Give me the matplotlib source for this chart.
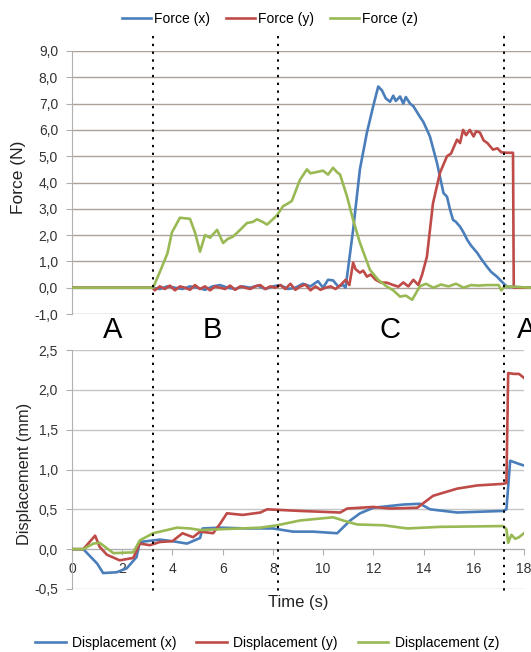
import matplotlib
matplotlib.use("Agg")
import matplotlib.pyplot as plt
import matplotlib.transforms as mtransforms
from matplotlib.lines import Line2D

plt.rcParams['font.family'] = ['Liberation Sans', 'DejaVu Sans']

# ---------------- data ----------------
fx_t = [0, 3.2, 3.5, 3.8, 4.1, 4.4, 4.7, 5.0, 5.3, 5.6, 5.9, 6.2, 6.5, 6.8, 7.1, 7.4, 7.7, 8.0, 8.3,
        8.6, 8.9, 9.2, 9.5, 9.8, 10.0, 10.2, 10.4, 10.6, 10.8, 10.9, 11.2, 11.47, 11.75, 12.0, 12.2,
        12.35, 12.5, 12.67, 12.8, 12.9, 13.07, 13.2, 13.3, 13.47, 13.6, 13.86, 14.0, 14.26, 14.54,
        14.8, 14.94, 15.06, 15.18, 15.3, 15.46, 15.6, 15.74, 15.9, 16.14, 16.3, 16.53, 16.7, 16.93,
        17.1, 17.33, 18.3]
fx_v = [0, 0, -0.05, 0.05, 0.0, -0.05, 0.05, 0.0, -0.08, 0.05, 0.1, 0.0, -0.05, 0.05, 0.0, 0.08,
        -0.05, 0.05, 0.1, -0.05, 0.0, 0.15, 0.05, 0.25, 0.0, 0.3, 0.28, 0.05, 0.1, 0.0, 2.2, 4.5,
        5.9, 6.9, 7.65, 7.5, 7.2, 7.07, 7.3, 7.1, 7.27, 7.0, 7.25, 7.0, 6.9, 6.5, 6.3, 5.75, 4.75,
        3.6, 3.46, 2.97, 2.58, 2.5, 2.32, 2.1, 1.83, 1.6, 1.33, 1.1, 0.8, 0.6, 0.42, 0.25, 0.04, 0]

fy_t = [0, 3.2, 3.3, 3.5, 3.7, 3.9, 4.1, 4.3, 4.5, 4.7, 4.9, 5.1, 5.3, 5.5, 5.7, 5.9, 6.1, 6.3, 6.5,
        6.7, 6.9, 7.1, 7.3, 7.5, 7.7, 7.9, 8.1, 8.3, 8.5, 8.7, 8.9, 9.1, 9.3, 9.5, 9.7, 9.9, 10.1,
        10.3, 10.5, 10.7, 10.9, 11.05, 11.2, 11.3, 11.47, 11.6, 11.75, 11.9, 12.1, 12.3, 12.55, 12.8,
        13.0, 13.2, 13.4, 13.6, 13.8, 13.95, 14.14, 14.38, 14.66, 14.94, 15.1, 15.34, 15.46, 15.58,
        15.7, 15.85, 16.0, 16.1, 16.25, 16.4, 16.55, 16.77, 16.95, 17.1, 17.33, 17.57, 17.6, 18.3]
fy_v = [0, 0, -0.1, 0.05, -0.05, 0.08, -0.1, 0.05, 0.0, -0.08, 0.1, -0.05, 0.05, -0.1, 0.05, 0.0,
        -0.05, 0.08, -0.08, 0.05, 0.0, -0.05, 0.05, 0.1, -0.05, 0.05, 0.0, 0.1, -0.05, 0.15, -0.08,
        0.05, 0.12, -0.1, 0.05, -0.08, 0.0, 0.05, -0.05, 0.1, 0.3, 0.1, 0.95, 0.7, 0.57, 0.65, 0.42,
        0.5, 0.3, 0.2, 0.19, 0.1, 0.04, 0.2, 0.05, 0.3, 0.1, 0.5, 1.18, 3.2, 4.37, 5.0, 5.1, 5.63,
        5.5, 6.0, 5.8, 6.0, 5.75, 5.95, 5.9, 5.6, 5.5, 5.25, 5.3, 5.15, 5.13, 5.13, 0, 0]

fz_t = [0, 3.23, 3.5, 3.8, 3.98, 4.3, 4.7, 4.9, 5.1, 5.3, 5.5, 5.78, 6.02, 6.2, 6.41, 6.7, 6.97, 7.2,
        7.37, 7.6, 7.77, 8.0, 8.17, 8.41, 8.6, 8.76, 9.08, 9.36, 9.5, 9.76, 10.0, 10.2, 10.4, 10.55,
        10.68, 10.96, 11.2, 11.47, 11.87, 12.2, 12.55, 12.8, 13.07, 13.3, 13.55, 13.86, 14.1, 14.4,
        14.7, 15.0, 15.3, 15.6, 15.9, 16.2, 16.5, 16.8, 17.0, 17.1, 17.25, 18.3]
fz_v = [0, 0, 0.6, 1.3, 2.1, 2.66, 2.62, 2.1, 1.37, 2.0, 1.9, 2.2, 1.7, 1.85, 1.94, 2.2, 2.46, 2.5,
        2.6, 2.5, 2.4, 2.6, 2.76, 3.1, 3.2, 3.3, 4.1, 4.5, 4.35, 4.4, 4.45, 4.3, 4.56, 4.4, 4.3, 3.46,
        2.58, 1.71, 0.68, 0.3, 0.04, -0.1, -0.34, -0.3, -0.46, 0.05, 0.15, 0.0, 0.12, 0.05, 0.15,
        0.0, 0.1, 0.08, 0.1, 0.1, 0.1, -0.1, 0.05, 0.0]

dx_t = [0, 0.45, 1.0, 1.24, 1.78, 2.18, 2.57, 2.7, 3.5, 4.0, 4.58, 5.1, 5.2, 5.9, 6.97, 8.0, 8.8,
        9.6, 10.56, 11.08, 11.47, 12.0, 13.19, 13.86, 14.26, 15.34, 17.17, 17.3, 17.45, 17.8, 18.0]
dx_v = [0, 0, -0.18, -0.3, -0.29, -0.24, -0.1, 0.09, 0.12, 0.1, 0.07, 0.14, 0.26, 0.27, 0.26, 0.26,
        0.22, 0.22, 0.2, 0.36, 0.45, 0.52, 0.56, 0.57, 0.5, 0.46, 0.48, 0.5, 1.11, 1.07, 1.05]

dy_t = [0, 0.45, 0.92, 1.1, 1.39, 1.9, 2.44, 2.7, 3.1, 3.5, 4.0, 4.4, 4.82, 5.1, 5.62, 5.9, 6.17,
        6.8, 7.5, 7.77, 9.08, 10.68, 10.96, 12.0, 12.67, 13.75, 14.38, 15.34, 16.14, 17.17, 17.3,
        17.37, 17.6, 17.8, 18.0]
dy_v = [0, 0, 0.17, 0.03, -0.07, -0.14, -0.11, 0.07, 0.05, 0.09, 0.1, 0.2, 0.15, 0.22, 0.2, 0.32,
        0.45, 0.43, 0.46, 0.5, 0.48, 0.46, 0.51, 0.53, 0.51, 0.52, 0.67, 0.76, 0.8, 0.82, 0.83, 2.21,
        2.2, 2.2, 2.15]

dz_t = [0, 0.45, 0.85, 1.1, 1.65, 2.44, 2.7, 3.23, 3.78, 4.18, 4.7, 5.1, 5.9, 7.5, 8.17, 9.08,
        10.4, 10.8, 11.35, 12.4, 13.35, 14.66, 17.17, 17.3, 17.37, 17.5, 17.65, 17.8, 18.0]
dz_v = [0, 0, 0.07, 0.08, -0.05, -0.04, 0.11, 0.2, 0.24, 0.27, 0.26, 0.24, 0.25, 0.27, 0.3, 0.36,
        0.4, 0.36, 0.31, 0.3, 0.26, 0.28, 0.29, 0.25, 0.08, 0.18, 0.13, 0.15, 0.2]

phase_times = [3.23, 8.2, 17.2]
phase_labels = ['A', 'B', 'C', 'A']
phase_label_x = [1.63, 5.6, 12.67, 18.1]

force_ticks = [-1, 0, 1, 2, 3, 4, 5, 6, 7, 8, 9]
disp_ticks = [-0.5, 0.0, 0.5, 1.0, 1.5, 2.0, 2.5]
time_ticks = [0, 2, 4, 6, 8, 10, 12, 14, 16, 18]

force_names = ['Force (x)', 'Force (y)', 'Force (z)']
disp_names = ['Displacement (x)', 'Displacement (y)', 'Displacement (z)']
colors = ['#4a7ebb', '#be4b48', '#98b954']

# ---------------- figure ----------------
W, H = 531, 652
fig = plt.figure(figsize=(W / 100, H / 100), dpi=100)

def frac(x0, y0, x1, y1):
    return [x0 / W, 1 - y1 / H, (x1 - x0) / W, (y1 - y0) / H]

ax1 = fig.add_axes(frac(72, 51, 531, 314))
ax2 = fig.add_axes(frac(72, 350, 524, 589))

lw = 1.9
for t, v, c, n in zip([fx_t, fy_t, fz_t], [fx_v, fy_v, fz_v], colors, force_names):
    ax1.plot(t, v, color=c, lw=lw, label=n, zorder=3)
for t, v, c, n in zip([dx_t, dy_t, dz_t], [dx_v, dy_v, dz_v], colors, disp_names):
    ax2.plot(t, v, color=c, lw=lw, label=n, zorder=3)

def fmt(v):
    return ('%.1f' % v).replace('.', ',')

tick_fs = 10
# top axis
ax1.set_xlim(0, (531 - 72) / 25.1)
ax1.set_ylim(-1, 9)
ax1.set_yticks(force_ticks)
ax1.set_yticklabels([fmt(v) for v in force_ticks])
ax1.set_xticks([])
ax1.grid(axis='y', color='#aaa29b', lw=1.0, zorder=0)
for s in ['top', 'right', 'bottom']:
    ax1.spines[s].set_visible(False)
ax1.spines['left'].set_color('#b0b0b0')
ax1.tick_params(axis='y', length=4, color='#b0b0b0', pad=6, labelsize=tick_fs, labelcolor='#333333')

# bottom axis
ax2.set_xlim(0, 18)
ax2.set_ylim(-0.5, 2.5)
ax2.set_yticks(disp_ticks)
ax2.set_yticklabels([fmt(v) for v in disp_ticks])
ax2.set_xticks(time_ticks)
ax2.set_xticklabels([str(v) for v in time_ticks])
ax2.grid(axis='y', color='#c6c6c6', lw=1.0, zorder=0)
for s in ['top', 'right']:
    ax2.spines[s].set_visible(False)
ax2.spines['bottom'].set_position(('data', 0))
ax2.spines['bottom'].set_color('#b0b0b0')
ax2.spines['left'].set_color('#b0b0b0')
ax2.tick_params(axis='y', length=4, color='#b0b0b0', pad=6, labelsize=tick_fs, labelcolor='#333333')
ax2.tick_params(axis='x', length=4, color='#b0b0b0', pad=5, labelsize=tick_fs, labelcolor='#333333')

fig.text(18.5 / W, 1 - 177 / H, 'Force (N)', fontsize=12.5, rotation=90, ha='center', va='center',
         color='#222222')
fig.text(25 / W, 1 - 474 / H, 'Displacement (mm)', fontsize=11.8, rotation=90, ha='center',
         va='center', color='#222222')
fig.text(298 / W, 1 - 603 / H, 'Time (s)', fontsize=12, ha='center', va='center', color='#222222')

# phase separators
trans = mtransforms.blended_transform_factory(ax2.transData, fig.transFigure)
for pt in phase_times:
    fig.add_artist(Line2D([pt, pt], [1 - 36 / H, 1 - 592 / H], transform=trans, color='black',
                          lw=1.4, linestyle=(0, (1.2, 2.8)), zorder=5))
for lab, lx in zip(phase_labels, phase_label_x):
    fig.text(lx, 1 - 330 / H, lab, transform=trans, fontsize=21, ha='center', va='center',
             color='black')

# legends
h1, l1 = ax1.get_legend_handles_labels()
fig.legend(h1, l1, loc='center', bbox_to_anchor=(270 / W, 1 - 19 / H), ncol=3, frameon=False,
           fontsize=10, handlelength=2.1, columnspacing=1.15, handletextpad=0.2)
h2, l2 = ax2.get_legend_handles_labels()
fig.legend(h2, l2, loc='center', bbox_to_anchor=(267 / W, 1 - 643 / H), ncol=3, frameon=False,
           fontsize=10, handlelength=2.2, columnspacing=1.45, handletextpad=0.45)

fig.savefig('out.png', dpi=100)
